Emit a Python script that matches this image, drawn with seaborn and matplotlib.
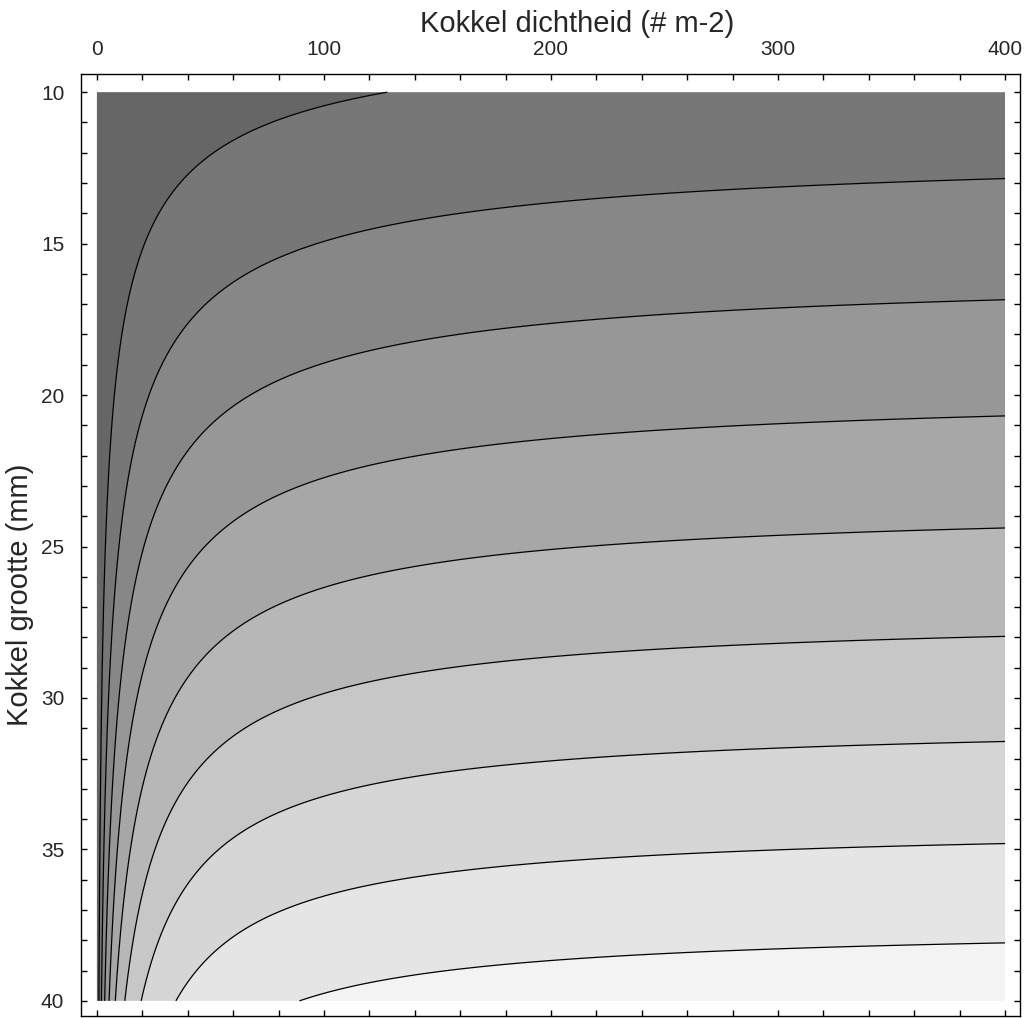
import numpy as np
import seaborn as sns
import matplotlib
matplotlib.use("Agg")
import matplotlib.pyplot as plt
from matplotlib.ticker import MultipleLocator

# cockle size classes (mm) and intake parameters
sizes = np.array([10, 15, 20, 25, 30, 35, 40])
max_intake = np.array([1.55, 2.77, 4.04, 5.39, 6.78, 8.24, 9.79])
half_sat = np.array([71.0, 37.1, 23.4, 16.4, 12.2, 9.6, 7.8])

levels = [0, 1, 2, 3, 4, 5, 6, 7, 8, 9, 10]
band_colors = ['#666666', '#777777', '#878787', '#979797', '#a7a7a7',
               '#b7b7b7', '#c7c7c7', '#d6d6d6', '#e5e5e5', '#f3f3f3']

density = np.linspace(0, 400, 801)
size = np.linspace(10, 40, 301)
D, S = np.meshgrid(density, size)

# smooth size dependence of the parameters
F = np.polyval(np.polyfit(sizes, max_intake, 2), S)
K = np.exp(np.polyval(np.polyfit(np.log(sizes), np.log(half_sat), 1), np.log(S)))
Z = F * D / (D + K)

sns.set_style("ticks")
plt.rcParams['font.family'] = ['Liberation Sans', 'DejaVu Sans']

fig = plt.figure(figsize=(10.24, 10.18), dpi=100)
ax = fig.add_axes([81/1024, 2/1018, 939/1024, 942/1018])

ax.contourf(D, S, Z, levels=levels, colors=band_colors, antialiased=True)
ax.contour(D, S, Z, levels=levels[1:-1], colors='black', linewidths=0.9)

ax.set_xlim(-7, 406.6)
ax.set_ylim(40.5, 9.4)

ax.xaxis.set_major_locator(MultipleLocator(100))
ax.xaxis.set_minor_locator(MultipleLocator(20))
ax.yaxis.set_major_locator(MultipleLocator(5))
ax.yaxis.set_minor_locator(MultipleLocator(1))
ax.tick_params(which='both', direction='in', top=True, bottom=True,
               left=True, right=True, length=4.5, width=1, color='black')
ax.tick_params(axis='x', labeltop=True, labelbottom=False, labelsize=15, pad=11)
ax.tick_params(axis='y', labelleft=True, labelright=False, labelsize=15, pad=12)

for sp in ax.spines.values():
    sp.set_linewidth(1.0)
    sp.set_color('black')

ax.xaxis.set_label_position('top')
ax.set_xlabel('Kokkel dichtheid (# m-2)', fontsize=21)
ax.xaxis.set_label_coords(0.528, 1.045)
ax.set_ylabel('Kokkel grootte (mm)', fontsize=21)
ax.yaxis.set_label_coords(-0.050, 0.447)

fig.savefig('out.png', dpi=100)
